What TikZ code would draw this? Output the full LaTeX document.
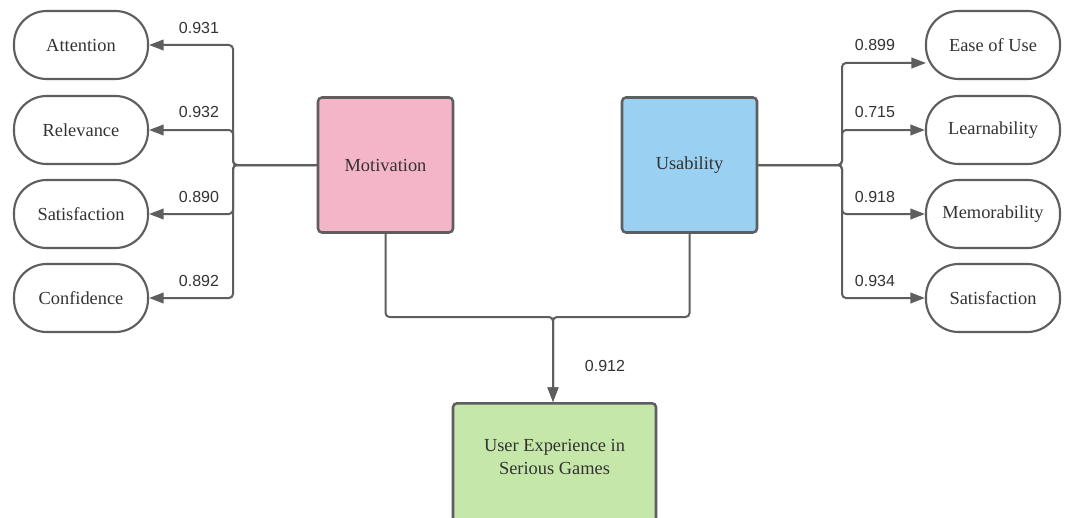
\documentclass[tikz,border=0pt]{standalone}
\usepackage{fontspec}
\setmainfont{Liberation Serif}
\newfontfamily\numfont{Liberation Sans}
\usetikzlibrary{arrows.meta}
\definecolor{edge}{HTML}{5E5E5E}
\definecolor{motfill}{HTML}{F4B5C8}
\definecolor{usafill}{HTML}{9AD1F2}
\definecolor{uxfill}{HTML}{C6E7AA}
\definecolor{txt}{HTML}{333333}
\tikzset{
  pill/.style={draw=edge, line width=1.6pt, rounded corners=24.5pt, fill=white,
    minimum width=100.5pt, minimum height=51pt, inner sep=0pt,
    font=\fontsize{13.8}{15}\selectfont, text=txt},
  factor/.style={draw=edge, line width=1.9pt, rounded corners=3pt,
    minimum width=101.25pt, minimum height=101.25pt, inner sep=0pt,
    font=\fontsize{13.8}{15}\selectfont, text=txt},
  link/.style={draw=edge, line width=1.5pt, rounded corners=3pt},
  arr/.style={link, -{Triangle[length=11pt, width=8pt]}},
  weight/.style={font=\numfont\fontsize{12}{14}\selectfont, text=txt, inner sep=0pt},
}
\begin{document}
\begin{tikzpicture}[x=0.75pt, y=-0.75pt]
\useasboundingbox (0,0) rectangle (1066,517);
\fill[white] (0,0) rectangle (1066,517);

% motivation side
\node[factor, fill=motfill] (mot) at (385.5,165) {Motivation};
\node[pill] (att) at (81,45) {Attention};
\node[pill] (rel) at (81,130) {Relevance};
\node[pill] (sat) at (81,214) {Satisfaction};
\node[pill] (con) at (81,298) {Confidence};

% usability side
\node[factor, fill=usafill] (usa) at (689.5,165) {Usability};
\node[pill] (eou) at (993,45) {Ease of Use};
\node[pill] (lea) at (993,130) {Learnability};
\node[pill] (mem) at (993,214) {Memorability};
\node[pill] (usat) at (993,298) {Satisfaction};

% outcome
\node[factor, fill=uxfill, minimum width=152.25pt, anchor=north] (ux) at (554.5,402) {};
\node[font=\fontsize{13.8}{17}\selectfont, text=txt, align=center] (uxtext) at (554.5,457)
  {User Experience in\\Serious Games};

% motivation connectors
\coordinate (mj) at (233,165);
\draw[arr] (mot.west) -- (mj) |- (att.east);
\draw[arr] (mot.west) -- (mj) |- (rel.east);
\draw[arr] (mot.west) -- (mj) |- (sat.east);
\draw[arr] (mot.west) -- (mj) |- (con.east);
\node[weight] (w1) at (199,28) {0.931};
\node[weight] (w2) at (199,112) {0.932};
\node[weight] (w3) at (199,197) {0.890};
\node[weight] (w4) at (199,281) {0.892};

% usability connectors
\coordinate (uj) at (842,165);
\coordinate (eouin) at (926,63);
\draw[arr] (usa.east) -- (uj) |- (eouin);
\draw[arr] (usa.east) -- (uj) |- (lea.west);
\draw[arr] (usa.east) -- (uj) |- (mem.west);
\draw[arr] (usa.east) -- (uj) |- (usat.west);
\node[weight] (w5) at (875,45) {0.899};
\node[weight] (w6) at (875,112) {0.715};
\node[weight] (w7) at (875,197) {0.918};
\node[weight] (w8) at (875,281) {0.934};

% outcome connectors
\coordinate (bj) at (553,317);
\draw[arr] (mot.south) |- (bj) -- (bj |- ux.north);
\draw[arr] (usa.south) |- (bj) -- (bj |- ux.north);
\node[weight] (w9) at (605,366) {0.912};
\end{tikzpicture}
\end{document}
